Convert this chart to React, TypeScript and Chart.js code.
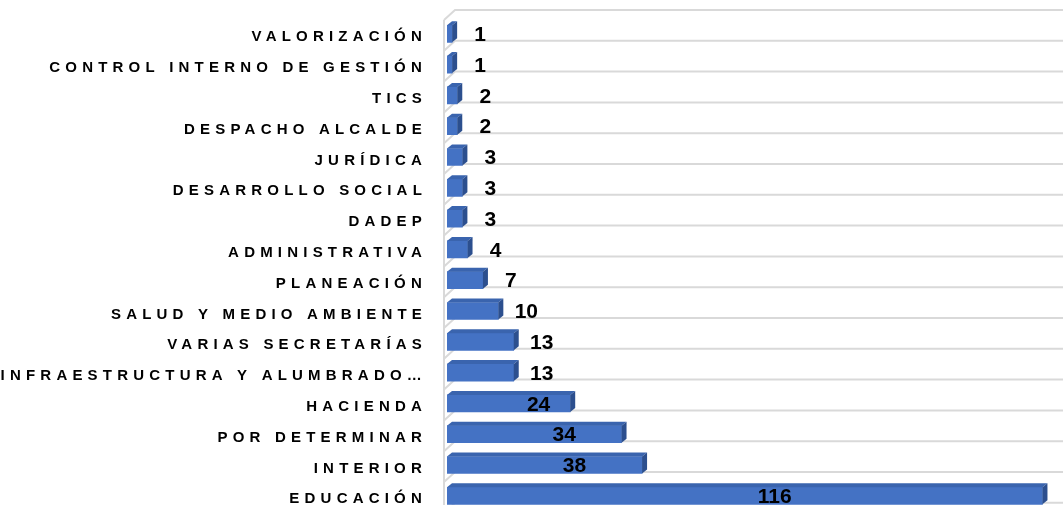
import React, { useEffect, useRef } from 'react';
import { Chart, registerables } from 'chart.js';

Chart.register(...registerables);

const categories = [
  'VALORIZACIÓN',
  'CONTROL INTERNO DE GESTIÓN',
  'TICS',
  'DESPACHO ALCALDE',
  'JURÍDICA',
  'DESARROLLO SOCIAL',
  'DADEP',
  'ADMINISTRATIVA',
  'PLANEACIÓN',
  'SALUD Y MEDIO AMBIENTE',
  'VARIAS SECRETARÍAS',
  'INFRAESTRUCTURA Y ALUMBRADO…',
  'HACIENDA',
  'POR DETERMINAR',
  'INTERIOR',
  'EDUCACIÓN',
];

const values = [1, 1, 2, 2, 3, 3, 3, 4, 7, 10, 13, 13, 24, 34, 38, 116];

const xMax = 120;

const FRONT = '#4472C4';
const TOP = '#3a64ae';
const SIDE = '#2c4f8e';
const GRID = '#d9d9d9';
const FONT = 'Arial, "Liberation Sans", sans-serif';
const BAR_THICK = 17;
const DEPTH_X = 5;
const DEPTH_Y = 4;

const wallPlugin = {
  id: 'wall3d',
  beforeDraw(chart: any) {
    chart.ctx.letterSpacing = '5.2px';
  },
  beforeDatasetsDraw(chart: any) {
    const ctx = chart.ctx;
    ctx.letterSpacing = '0px';
    const y = chart.scales.y;
    const area = chart.chartArea;
    const band = y.getPixelForValue(1) - y.getPixelForValue(0);
    const frontX = area.left - 3;
    const backX = area.left + 8;
    const drop = 10;
    const right = chart.width;
    ctx.save();
    ctx.strokeStyle = GRID;
    ctx.lineWidth = 2;
    const lines: number[] = [];
    lines.push(y.getPixelForValue(0) - band + 7);
    for (let i = 0; i < categories.length; i++) {
      lines.push(y.getPixelForValue(i) + 7);
    }
    ctx.beginPath();
    ctx.moveTo(frontX, lines[0] + drop);
    ctx.lineTo(frontX, chart.height);
    ctx.stroke();
    lines.forEach((L) => {
      ctx.beginPath();
      ctx.moveTo(frontX, L + drop);
      ctx.lineTo(backX, L);
      ctx.lineTo(right, L);
      ctx.stroke();
    });
    ctx.restore();
  },
  afterDatasetsDraw(chart: any) {
    const ctx = chart.ctx;
    const meta = chart.getDatasetMeta(0);
    ctx.save();
    ctx.letterSpacing = '0px';
    meta.data.forEach((bar: any, i: number) => {
      const { x, y, base } = bar.getProps(['x', 'y', 'base'], true);
      const top = y - BAR_THICK / 2;
      const bottom = y + BAR_THICK / 2;
      ctx.fillStyle = TOP;
      ctx.beginPath();
      ctx.moveTo(base, top);
      ctx.lineTo(base + DEPTH_X, top - DEPTH_Y);
      ctx.lineTo(x + DEPTH_X, top - DEPTH_Y);
      ctx.lineTo(x, top);
      ctx.closePath();
      ctx.fill();
      ctx.fillStyle = SIDE;
      ctx.beginPath();
      ctx.moveTo(x, top);
      ctx.lineTo(x + DEPTH_X, top - DEPTH_Y);
      ctx.lineTo(x + DEPTH_X, bottom - DEPTH_Y);
      ctx.lineTo(x, bottom);
      ctx.closePath();
      ctx.fill();
      const v = values[i];
      const lx = v >= 20 ? (base + x) / 2 + 30 : x + 28;
      ctx.fillStyle = '#000000';
      ctx.font = `bold 21px ${FONT}`;
      ctx.textAlign = 'center';
      ctx.textBaseline = 'middle';
      ctx.fillText(String(v), lx, y + 1.5);
    });
    ctx.restore();
  },
};

export default function App() {
  const ref = useRef<HTMLCanvasElement | null>(null);

  useEffect(() => {
    if (!ref.current) return;
    const chart = new Chart(ref.current, {
      type: 'bar',
      data: {
        labels: categories,
        datasets: [
          {
            data: values,
            backgroundColor: FRONT,
            borderWidth: 0,
            barThickness: BAR_THICK,
          },
        ],
      },
      options: {
        indexAxis: 'y',
        responsive: false,
        animation: false,
        layout: { padding: { top: 18.4, bottom: 18.8, left: 0, right: 0 } },
        plugins: {
          legend: { display: false },
          tooltip: { enabled: false },
        },
        scales: {
          x: {
            display: false,
            min: 0,
            max: xMax,
          },
          y: {
            grid: { display: false, drawTicks: false, tickLength: 0 },
            border: { display: false },
            afterFit: (scale: any) => {
              scale.width = 447;
              scale.paddingTop = 0;
              scale.paddingBottom = 0;
            },
            ticks: {
              padding: 20,
              labelOffset: 3.5,
              color: '#000000',
              autoSkip: false,
              font: { family: FONT, size: 15, weight: 'bold' },
            },
          },
        },
      },
      plugins: [wallPlugin],
    });
    return () => chart.destroy();
  }, []);

  return (
    <div
      style={{
        position: 'absolute',
        left: 0,
        top: 0,
        width: 1063,
        height: 505,
        overflow: 'hidden',
        background: '#ffffff',
      }}
    >
      <canvas ref={ref} width={1063} height={530} style={{ display: 'block' }} />
    </div>
  );
}
